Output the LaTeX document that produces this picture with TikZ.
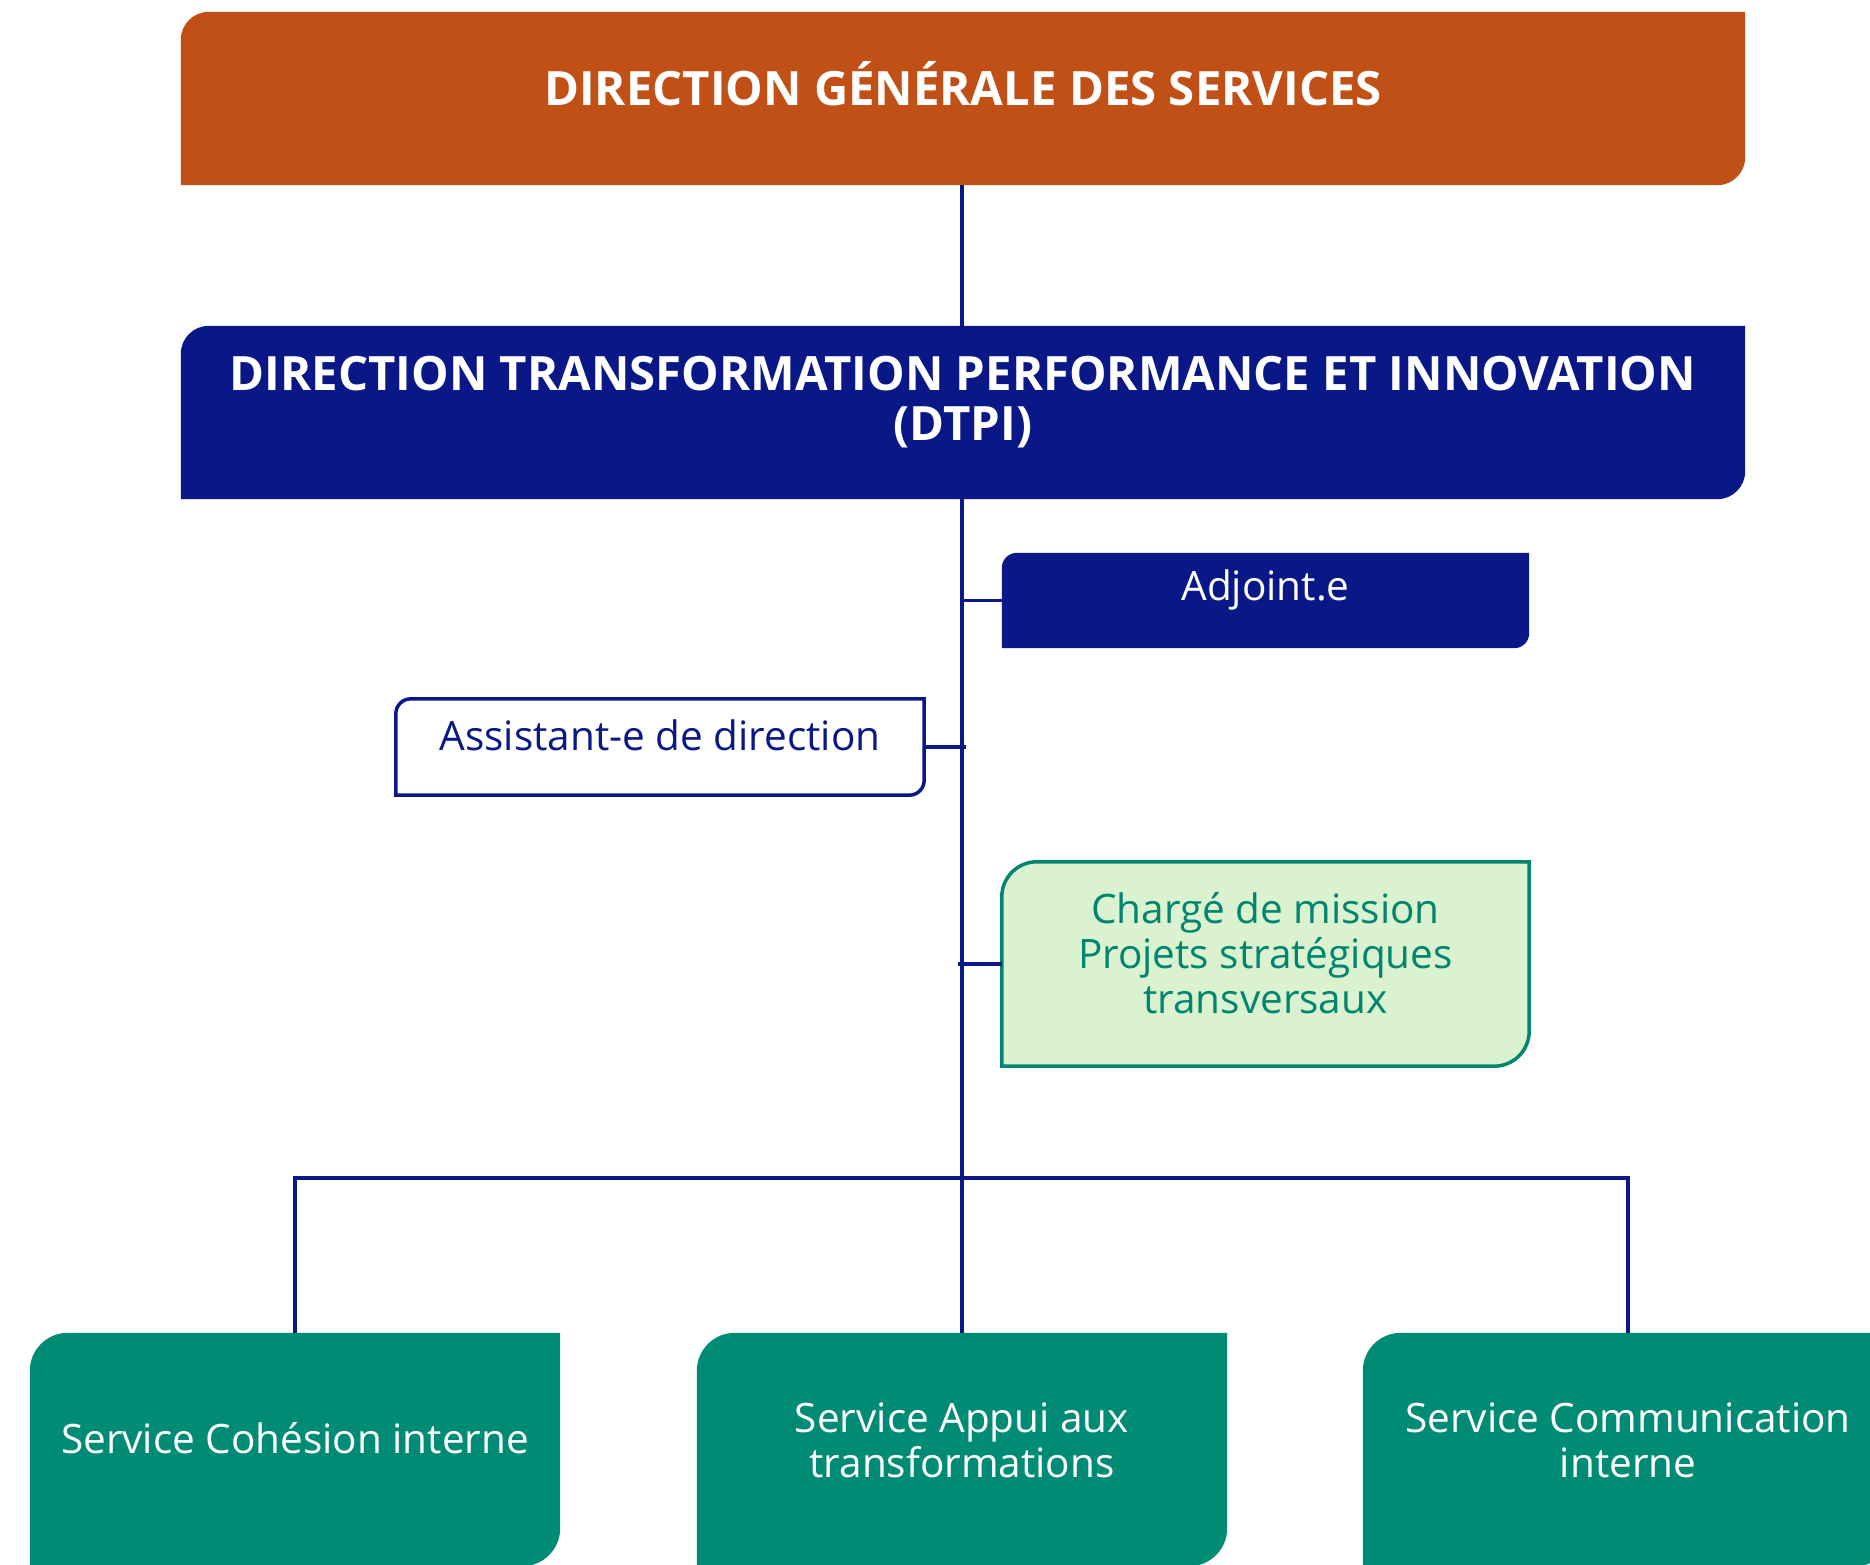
\documentclass[tikz,border=0pt]{standalone}
\usepackage{fontspec}
\setmainfont{Open Sans}
\usetikzlibrary{backgrounds}
\definecolor{dgorange}{RGB}{192,80,22}
\definecolor{navy}{RGB}{9,24,134}
\definecolor{tealbox}{RGB}{0,139,117}
\definecolor{lgreen}{RGB}{218,242,208}
\definecolor{dgreen}{RGB}{0,133,110}
\newcommand\boxtxt[2]{\raisebox{#1pt}[0pt][0pt]{\begin{tabular}[t]{@{}c@{}}#2\end{tabular}}}
\newcommand\boxpath[3]{\path[#3] (#1.south west) -- ([yshift=-#2pt]#1.north west) arc[start angle=180,end angle=90,radius=#2pt] -- (#1.north east) -- ([yshift=#2pt]#1.south east) arc[start angle=0,end angle=-90,radius=#2pt] -- cycle;}
\tikzset{
  orgbox/.style={rectangle, inner sep=0pt},
  headtxt/.style={orgbox, text=white, font=\fontsize{47.3pt}{50pt}\selectfont\bfseries},
  bodytxt/.style={orgbox, font=\fontsize{40.5pt}{45pt}\selectfont},
  conn/.style={draw=navy, line width=3.5pt}
}
\begin{document}
\begin{tikzpicture}[x=1pt,y=1pt]
\useasboundingbox (0,0) rectangle (1870,-1564);
% nodes
\node[headtxt, minimum width=1564pt, minimum height=173pt] (dg) at (963,-98.5)
  {\boxtxt{-6.5}{DIRECTION GÉNÉRALE DES SERVICES}};
\node[headtxt, minimum width=1564pt, minimum height=173pt] (dtpi) at (963,-412.5)
  {\boxtxt{21.8}{DIRECTION TRANSFORMATION PERFORMANCE ET INNOVATION\\(DTPI)}};
\node[bodytxt, text=white, minimum width=527pt, minimum height=95pt] (adj) at (1265.5,-600.5)
  {\boxtxt{0.5}{Adjoint.e}};
\node[bodytxt, text=navy, minimum width=528pt, minimum height=96pt] (asst) at (660,-747)
  {\boxtxt{-3}{Assistant-e de direction}};
\node[bodytxt, text=dgreen, minimum width=527pt, minimum height=204pt] (chg) at (1265.5,-964)
  {\boxtxt{41}{Chargé de mission\\Projets stratégiques\\transversaux}};
\node[bodytxt, text=white, minimum width=530pt, minimum height=233pt] (s1) at (295,-1449.5)
  {\boxtxt{-3.5}{Service Cohésion interne}};
\node[bodytxt, text=white, minimum width=530pt, minimum height=233pt] (s2) at (962,-1449.5)
  {\boxtxt{17.5}{Service Appui aux\\transformations}};
\node[bodytxt, text=white, minimum width=530pt, minimum height=233pt] (s3) at (1628,-1449.5)
  {\boxtxt{17.5}{Service Communication\\interne}};
% box shapes
\begin{scope}[on background layer]
\boxpath{dg}{28}{fill=dgorange}
\boxpath{dtpi}{28}{fill=navy}
\boxpath{adj}{15}{fill=navy}
\boxpath{asst}{15}{fill=white, draw=navy, line width=3.5pt}
\boxpath{chg}{35}{fill=lgreen, draw=dgreen, line width=3.5pt}
\boxpath{s1}{38}{fill=tealbox}
\boxpath{s2}{38}{fill=tealbox}
\boxpath{s3}{38}{fill=tealbox}
\end{scope}
% connectors
\coordinate (bus) at (962,-1178);
\draw[conn] (dg.south -| bus) -- (dtpi.north -| bus);
\draw[conn] (dtpi.south -| bus) -- (bus);
\draw[conn] (adj.west -| bus) -- (adj.west);
\draw[conn] (asst.east) -- ([xshift=4pt]asst.east -| bus);
\draw[conn] ([xshift=-4pt]chg.west -| bus) -- (chg.west);
\draw[conn] (s1.north) |- (bus) -| (s3.north);
\draw[conn] (bus) -- (s2.north);
\end{tikzpicture}
\end{document}
